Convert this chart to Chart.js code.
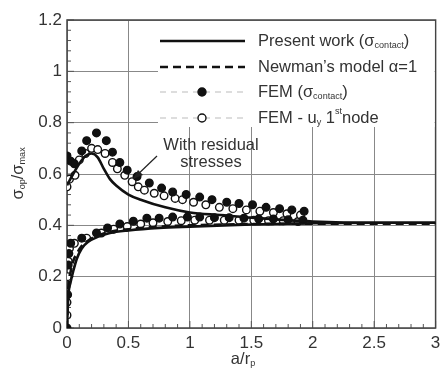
<!DOCTYPE html>
<html>
<head>
<meta charset="utf-8">
<script src="https://cdn.jsdelivr.net/npm/chart.js@4"></script>
<style>
  body { margin: 0; background: #fff; }
  canvas { display: block; }
</style>
</head>
<body>
<canvas id="opChart" width="441" height="370"></canvas>
<script>
  // ----- data
  // present work (solid), with residual stresses (upper) and without (lower)
  const presentUpX = [0, 0.05, 0.1, 0.15, 0.2, 0.25, 0.3, 0.35, 0.4, 0.5, 0.6, 0.8, 1.0, 1.25, 1.5, 2, 2.5, 3];
  const presentUpY = [0.556, 0.6, 0.64, 0.67, 0.68, 0.665, 0.62, 0.58, 0.555, 0.52, 0.5, 0.47, 0.45, 0.44, 0.43, 0.415, 0.41, 0.41];
  const presentLoX = [0, 0.01, 0.03, 0.05, 0.08, 0.12, 0.17, 0.25, 0.35, 0.5, 0.75, 1, 1.5, 2, 2.5, 3];
  const presentLoY = [0, 0.12, 0.18, 0.22, 0.27, 0.31, 0.335, 0.355, 0.37, 0.38, 0.39, 0.395, 0.403, 0.408, 0.41, 0.41];
  // Newman's model (dashed)
  const newmanX = [0, 0.01, 0.03, 0.05, 0.08, 0.12, 0.17, 0.25, 0.35, 0.5, 0.75, 1, 1.5, 2, 2.5, 3];
  const newmanY = [0, 0.15, 0.22, 0.26, 0.29, 0.32, 0.34, 0.36, 0.375, 0.385, 0.395, 0.4, 0.405, 0.406, 0.406, 0.406];
  // FEM (sigma contact) - filled circles
  const femUpX = [0, 0.03, 0.06, 0.12, 0.16, 0.24, 0.32, 0.37, 0.43, 0.49, 0.57, 0.67, 0.77, 0.86, 0.97, 1.08, 1.18, 1.3, 1.4, 1.51, 1.62, 1.73, 1.83, 1.93];
  const femUpY = [0.67, 0.65, 0.64, 0.69, 0.73, 0.76, 0.73, 0.685, 0.645, 0.615, 0.59, 0.565, 0.545, 0.53, 0.52, 0.51, 0.5, 0.49, 0.485, 0.48, 0.47, 0.465, 0.46, 0.455];
  const femLoX = [0, 0.005, 0.01, 0.015, 0.03, 0.12, 0.24, 0.33, 0.43, 0.54, 0.65, 0.75, 0.86, 0.98, 1.08, 1.2, 1.32, 1.44, 1.56, 1.68, 1.8, 1.92];
  const femLoY = [0.0, 0.13, 0.245, 0.29, 0.33, 0.35, 0.37, 0.39, 0.405, 0.416, 0.428, 0.428, 0.432, 0.432, 0.432, 0.43, 0.43, 0.428, 0.425, 0.425, 0.422, 0.42];
  // FEM - uy 1st node - open circles
  const nodeUpX = [0, 0.02, 0.065, 0.1, 0.15, 0.2, 0.25, 0.31, 0.37, 0.41, 0.47, 0.53, 0.58, 0.63, 0.71, 0.79, 0.88, 0.94, 1.03, 1.13, 1.24, 1.35, 1.46, 1.57, 1.68, 1.79, 1.9];
  const nodeUpY = [0.55, 0.58, 0.595, 0.655, 0.68, 0.7, 0.695, 0.68, 0.645, 0.62, 0.595, 0.57, 0.55, 0.537, 0.525, 0.515, 0.505, 0.5, 0.49, 0.48, 0.47, 0.465, 0.46, 0.455, 0.45, 0.445, 0.44];
  const nodeLoX = [0, 0, 0.005, 0.01, 0.02, 0.06, 0.16, 0.28, 0.38, 0.49, 0.6, 0.7, 0.82, 0.93, 1.04, 1.16, 1.28, 1.4, 1.52, 1.64, 1.76, 1.88];
  const nodeLoY = [0.05, 0.1, 0.2, 0.26, 0.31, 0.33, 0.35, 0.37, 0.385, 0.395, 0.405, 0.41, 0.415, 0.418, 0.42, 0.42, 0.42, 0.42, 0.42, 0.418, 0.418, 0.415];

  const xTicks = [0, 0.5, 1, 1.5, 2, 2.5, 3];
  const yTicks = [0, 0.2, 0.4, 0.6, 0.8, 1, 1.2];

  function pts(xs, ys) {
    return xs.map(function(x, i) { return { x: x, y: ys[i] }; });
  }

  const fontFam = '"Liberation Sans", Arial, sans-serif';
  const textCol = '#333';

  function lineSet(xs, ys, dash) {
    return {
      data: pts(xs, ys),
      showLine: true,
      borderColor: '#111',
      borderWidth: 2.6,
      borderDash: dash,
      pointRadius: 0,
      cubicInterpolationMode: 'monotone',
      order: 1
    };
  }
  function dotSet(xs, ys, filled) {
    return {
      data: pts(xs, ys),
      showLine: false,
      pointRadius: 3.8,
      pointBorderWidth: 1.4,
      pointBorderColor: '#111',
      pointBackgroundColor: filled ? '#111' : '#fff',
      order: filled ? 2 : 3
    };
  }

  // sub/superscript text helper
  function richText(ctx, x, y, parts, size) {
    let cx = x;
    parts.forEach(function(p) {
      const s = p.sub ? size * 0.55 : (p.sup ? size * 0.55 : size);
      const dy = p.sub ? size * 0.3 : (p.sup ? -size * 0.4 : 0);
      ctx.font = s + 'px ' + fontFam;
      ctx.fillText(p.t, cx, y + dy);
      cx += ctx.measureText(p.t).width;
    });
    return cx;
  }

  const decorPlugin = {
    id: 'decor',
    beforeDatasetsDraw(chart) {
      const ctx = chart.ctx, a = chart.chartArea;
      const xs = chart.scales.x, ys = chart.scales.y;
      ctx.save();
      ctx.strokeStyle = '#555';
      ctx.lineWidth = 1;
      // minor ticks inside the frame
      for (let i = 0; i <= 30; i++) {
        const px = xs.getPixelForValue(i / 10);
        const len = i % 5 === 0 ? 7 : 4;
        ctx.beginPath(); ctx.moveTo(px, a.bottom); ctx.lineTo(px, a.bottom - len); ctx.stroke();
      }
      for (let i = 0; i <= 30; i++) {
        const py = ys.getPixelForValue(i * 0.04);
        const len = i % 5 === 0 ? 7 : 4;
        ctx.beginPath(); ctx.moveTo(a.left, py); ctx.lineTo(a.left + len, py); ctx.stroke();
      }
      // frame
      ctx.strokeStyle = '#444';
      ctx.lineWidth = 1.5;
      ctx.strokeRect(a.left, a.top, a.right - a.left, a.bottom - a.top);
      ctx.restore();
    },
    afterDraw(chart) {
      const ctx = chart.ctx, a = chart.chartArea;
      ctx.save();
      // legend box
      ctx.fillStyle = '#fff';
      ctx.fillRect(158, a.top + 1, a.right - 159, 106);
      const rows = [41, 67, 92, 118];
      ctx.strokeStyle = '#111';
      ctx.lineWidth = 2.6;
      ctx.beginPath(); ctx.moveTo(160, rows[0]); ctx.lineTo(245, rows[0]); ctx.stroke();
      ctx.setLineDash([8, 5]);
      ctx.beginPath(); ctx.moveTo(160, rows[1]); ctx.lineTo(245, rows[1]); ctx.stroke();
      ctx.strokeStyle = '#bbb';
      ctx.lineWidth = 1;
      ctx.setLineDash([6, 5]);
      ctx.beginPath(); ctx.moveTo(160, rows[2]); ctx.lineTo(245, rows[2]); ctx.stroke();
      ctx.beginPath(); ctx.moveTo(160, rows[3]); ctx.lineTo(245, rows[3]); ctx.stroke();
      ctx.setLineDash([]);
      ctx.lineWidth = 1.4;
      ctx.strokeStyle = '#111';
      ctx.fillStyle = '#111';
      ctx.beginPath(); ctx.arc(202, rows[2], 4, 0, Math.PI * 2); ctx.fill(); ctx.stroke();
      ctx.fillStyle = '#fff';
      ctx.beginPath(); ctx.arc(202, rows[3], 4, 0, Math.PI * 2); ctx.fill(); ctx.stroke();

      ctx.fillStyle = textCol;
      ctx.textBaseline = 'middle';
      ctx.textAlign = 'left';
      let e = richText(ctx, 258, rows[0], [{ t: 'Present work (σ' }, { t: 'contact', sub: true }], 16.5);
      richText(ctx, e, rows[0], [{ t: ')' }], 16.5);
      richText(ctx, 258, rows[1], [{ t: 'Newman\u2019s model \u03b1=1' }], 16.5);
      e = richText(ctx, 258, rows[2], [{ t: 'FEM (σ' }, { t: 'contact', sub: true }], 16.5);
      richText(ctx, e, rows[2], [{ t: ')' }], 16.5);
      richText(ctx, 258, rows[3], [{ t: 'FEM - u' }, { t: 'y', sub: true }, { t: ' 1' }, { t: 'st', sup: true }, { t: 'node' }], 16.5);

      // annotation
      ctx.font = '16.5px ' + fontFam;
      ctx.textAlign = 'center';
      ctx.fillText('With residual', 211, 145);
      ctx.fillText('stresses', 211, 162);
      ctx.strokeStyle = '#222';
      ctx.lineWidth = 1.2;
      ctx.beginPath(); ctx.moveTo(157, 156); ctx.lineTo(133, 179); ctx.stroke();
      ctx.beginPath(); ctx.moveTo(133, 179); ctx.lineTo(143, 175); ctx.lineTo(138, 170); ctx.closePath();
      ctx.fillStyle = '#222'; ctx.fill();

      // axis titles
      ctx.fillStyle = textCol;
      ctx.textBaseline = 'middle';
      ctx.textAlign = 'left';
      ctx.font = '16.5px ' + fontFam;
      const xw = ctx.measureText('a/r').width + 7;
      richText(ctx, 244 - xw / 2, 359, [{ t: 'a/r' }, { t: 'p', sub: true }], 16.5);
      ctx.translate(18, 176);
      ctx.rotate(-Math.PI / 2);
      ctx.font = '16.5px ' + fontFam;
      const yw = ctx.measureText('σ/σ').width + 22;
      richText(ctx, -yw / 2, 0, [{ t: 'σ' }, { t: 'op', sub: true }, { t: '/σ' }, { t: 'max', sub: true }], 16.5);
      ctx.restore();
    }
  };

  new Chart(document.getElementById('opChart'), {
    type: 'scatter',
    data: {
      datasets: [
        lineSet(presentUpX, presentUpY, []),
        lineSet(presentLoX, presentLoY, []),
        lineSet(newmanX, newmanY, [8, 5]),
        dotSet(femUpX, femUpY, true),
        dotSet(femLoX, femLoY, true),
        dotSet(nodeUpX, nodeUpY, false),
        dotSet(nodeLoX, nodeLoY, false)
      ]
    },
    options: {
      responsive: false,
      devicePixelRatio: 1,
      animation: false,
      layout: { padding: { top: 20, right: 3, left: 0, bottom: 0 } },
      plugins: { legend: { display: false }, tooltip: { enabled: false } },
      scales: {
        x: {
          type: 'linear', min: 0, max: 3,
          afterBuildTicks: function(s) { s.ticks = xTicks.map(function(v) { return { value: v }; }); },
          afterFit: function(s) { s.height = 42; s.paddingRight = 0; s.paddingLeft = 0; },
          grid: { color: '#888', lineWidth: 1, drawTicks: false },
          border: { display: false },
          ticks: {
            color: textCol, padding: 5, maxRotation: 0,
            font: { family: fontFam, size: 17 },
            callback: function(v) { return String(v); }
          }
        },
        y: {
          min: 0, max: 1.2,
          afterBuildTicks: function(s) { s.ticks = yTicks.map(function(v) { return { value: v }; }); },
          afterFit: function(s) { s.width = 67; s.paddingTop = 0; s.paddingBottom = 0; },
          grid: { color: '#888', lineWidth: 1, drawTicks: false },
          border: { display: false },
          ticks: {
            color: textCol, padding: 5,
            font: { family: fontFam, size: 17 },
            callback: function(v) { return String(Math.round(v * 10) / 10); }
          }
        }
      }
    },
    plugins: [decorPlugin]
  });
</script>
</body>
</html>
